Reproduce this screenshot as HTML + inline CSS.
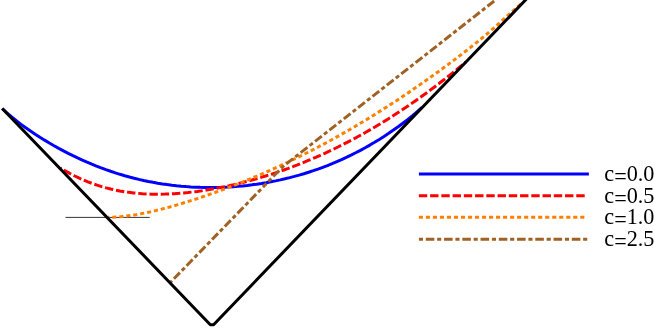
<!DOCTYPE html>
<html><head><meta charset="utf-8"><title>chart</title>
<style>
html,body{margin:0;padding:0;background:#fff;}
svg{display:block;}
text{font-family:"Liberation Serif",serif;font-size:22.2px;fill:#000;}
</style></head>
<body>
<svg width="654" height="328" viewBox="0 0 654 328">
<rect width="654" height="328" fill="#ffffff"/>
<g fill="none" stroke-linecap="butt" stroke-linejoin="bevel">
<path d="M65.5,217.4 L149.7,217.4" stroke="#000" stroke-width="0.8"/>
<path d="M2.20,108.48 L6.91,112.85 L11.63,116.92 L16.34,120.74 L21.05,124.35 L25.77,127.77 L30.48,131.04 L35.19,134.19 L39.91,137.22 L44.62,140.15 L49.33,142.98 L54.05,145.71 L58.76,148.35 L63.48,150.90 L68.19,153.35 L72.90,155.70 L77.62,157.96 L82.33,160.13 L87.04,162.21 L91.76,164.20 L96.47,166.10 L101.18,167.92 L105.90,169.64 L110.61,171.28 L115.32,172.84 L120.04,174.31 L124.75,175.69 L129.46,177.00 L134.18,178.22 L138.89,179.37 L143.60,180.43 L148.32,181.42 L153.03,182.32 L157.74,183.15 L162.46,183.91 L167.17,184.59 L171.89,185.20 L176.60,185.74 L181.31,186.20 L186.03,186.59 L190.74,186.92 L195.45,187.17 L200.17,187.35 L204.88,187.46 L209.59,187.51 L214.31,187.48 L219.02,187.39 L223.73,187.23 L228.45,187.00 L233.16,186.70 L237.87,186.34 L242.59,185.90 L247.30,185.39 L252.01,184.82 L256.73,184.17 L261.44,183.46 L266.16,182.67 L270.87,181.81 L275.58,180.88 L280.30,179.88 L285.01,178.80 L289.72,177.64 L294.44,176.41 L299.15,175.10 L303.86,173.71 L308.58,172.24 L313.29,170.69 L318.00,169.06 L322.72,167.34 L327.43,165.53 L332.14,163.64 L336.86,161.65 L341.57,159.58 L346.28,157.41 L351.00,155.14 L355.71,152.78 L360.42,150.32 L365.14,147.75 L369.85,145.08 L374.57,142.31 L379.28,139.42 L383.99,136.42 L388.71,133.31 L393.42,130.08 L398.13,126.73 L402.85,123.25 L407.56,119.62 L412.27,115.83 L416.99,111.85 L421.70,107.66" stroke="#0000ff" stroke-width="3"/>
<path d="M60.60,168.04 L65.16,170.79 L69.71,173.36 L74.27,175.74 L78.82,177.95 L83.38,179.99 L87.93,181.86 L92.49,183.58 L97.04,185.15 L101.60,186.57 L106.15,187.85 L110.71,189.00 L115.26,190.02 L119.82,190.91 L124.37,191.69 L128.93,192.36 L133.48,192.91 L138.04,193.36 L142.59,193.71 L147.15,193.96 L151.70,194.13 L156.26,194.20 L160.81,194.19 L165.37,194.09 L169.92,193.92 L174.48,193.67 L179.03,193.35 L183.59,192.96 L188.14,192.50 L192.70,191.98 L197.25,191.39 L201.81,190.75 L206.36,190.04 L210.92,189.28 L215.47,188.46 L220.03,187.59 L224.58,186.66 L229.14,185.68 L233.69,184.65 L238.25,183.57 L242.80,182.44 L247.36,181.26 L251.91,180.02 L256.47,178.74 L261.02,177.41 L265.58,176.02 L270.13,174.59 L274.69,173.10 L279.24,171.56 L283.80,169.97 L288.35,168.33 L292.91,166.63 L297.46,164.89 L302.02,163.09 L306.57,161.23 L311.13,159.33 L315.68,157.37 L320.24,155.36 L324.79,153.29 L329.35,151.17 L333.90,149.00 L338.46,146.77 L343.01,144.49 L347.57,142.15 L352.12,139.76 L356.68,137.31 L361.23,134.81 L365.79,132.26 L370.34,129.64 L374.90,126.98 L379.45,124.26 L384.01,121.48 L388.56,118.65 L393.12,115.76 L397.67,112.81 L402.23,109.81 L406.78,106.76 L411.34,103.64 L415.89,100.47 L420.45,97.25 L425.00,93.97 L429.56,90.63 L434.11,87.24 L438.67,83.79 L443.22,80.28 L447.78,76.71 L452.33,73.09 L456.89,69.42 L461.44,65.68 L466.00,61.89" stroke="#ff0000" stroke-width="3" stroke-dasharray="8.4 2.845" stroke-dashoffset="7.5"/>
<path d="M108.00,217.35 L112.65,217.20 L117.30,216.92 L121.96,216.52 L126.61,216.00 L131.26,215.37 L135.91,214.65 L140.56,213.83 L145.21,212.92 L149.87,211.93 L154.52,210.88 L159.17,209.75 L163.82,208.56 L168.47,207.32 L173.12,206.02 L177.78,204.67 L182.43,203.28 L187.08,201.85 L191.73,200.37 L196.38,198.86 L201.03,197.32 L205.69,195.73 L210.34,194.12 L214.99,192.47 L219.64,190.79 L224.29,189.07 L228.94,187.33 L233.60,185.54 L238.25,183.73 L242.90,181.88 L247.55,179.99 L252.20,178.07 L256.85,176.12 L261.51,174.13 L266.16,172.10 L270.81,170.05 L275.46,167.95 L280.11,165.82 L284.76,163.65 L289.42,161.45 L294.07,159.21 L298.72,156.94 L303.37,154.63 L308.02,152.28 L312.67,149.89 L317.33,147.47 L321.98,145.01 L326.63,142.52 L331.28,139.99 L335.93,137.42 L340.58,134.81 L345.24,132.16 L349.89,129.48 L354.54,126.76 L359.19,124.01 L363.84,121.21 L368.49,118.38 L373.15,115.51 L377.80,112.61 L382.45,109.67 L387.10,106.69 L391.75,103.68 L396.40,100.63 L401.06,97.55 L405.71,94.43 L410.36,91.28 L415.01,88.09 L419.66,84.87 L424.31,81.62 L428.97,78.34 L433.62,75.03 L438.27,71.68 L442.92,68.30 L447.57,64.88 L452.22,61.42 L456.88,57.92 L461.53,54.37 L466.18,50.78 L470.83,47.12 L475.48,43.41 L480.13,39.62 L484.79,35.76 L489.44,31.81 L494.09,27.78 L498.74,23.65 L503.39,19.46 L508.04,15.25 L512.70,11.07 L517.35,7.02 L522.00,3.18" stroke="#ff8000" stroke-width="3" stroke-dasharray="4.1 2.918" stroke-dashoffset="2.7"/>
<path d="M170.6,282.2 L264.9,185.13" stroke="#9f6224" stroke-width="3" stroke-dasharray="8.55 2.8 4.1 2.8" stroke-dashoffset="13.5"/>
<path d="M264.9,185.13 L282.9,166.6 L496.5,-0.8" stroke="#9f6224" stroke-width="3" stroke-dasharray="8.55 2.8 4.1 2.8" stroke-dashoffset="6.3" stroke-linejoin="round"/>
<path d="M2.20,108.49 L210.31,324.7 L213.58,324.7 L531.26,-6" stroke="#000" stroke-width="3"/>
<path d="M418.9,174.0 L588.9,174.0" stroke="#0000ff" stroke-width="3"/>
<path d="M418.85,195.7 L586,195.7" stroke="#ff0000" stroke-width="3" stroke-dasharray="8.4 2.845"/>
<path d="M418.85,217.35 L586,217.35" stroke="#ff8000" stroke-width="3" stroke-dasharray="4.1 2.918"/>
<path d="M418.9,239.3 L589,239.3" stroke="#9f6224" stroke-width="3" stroke-dasharray="4.1 2.8 8.55 2.8"/>
</g>
<g style="filter:grayscale(1)">
<text x="604.3" y="181.20">c<tspan dy="2.7">=</tspan><tspan dy="-2.7">0.0</tspan></text>
<text x="604.3" y="202.90">c<tspan dy="2.7">=</tspan><tspan dy="-2.7">0.5</tspan></text>
<text x="604.3" y="224.45">c<tspan dy="2.7">=</tspan><tspan dy="-2.7">1.0</tspan></text>
<text x="604.3" y="246.20">c<tspan dy="2.7">=</tspan><tspan dy="-2.7">2.5</tspan></text>
</g>
</svg>
</body></html>
